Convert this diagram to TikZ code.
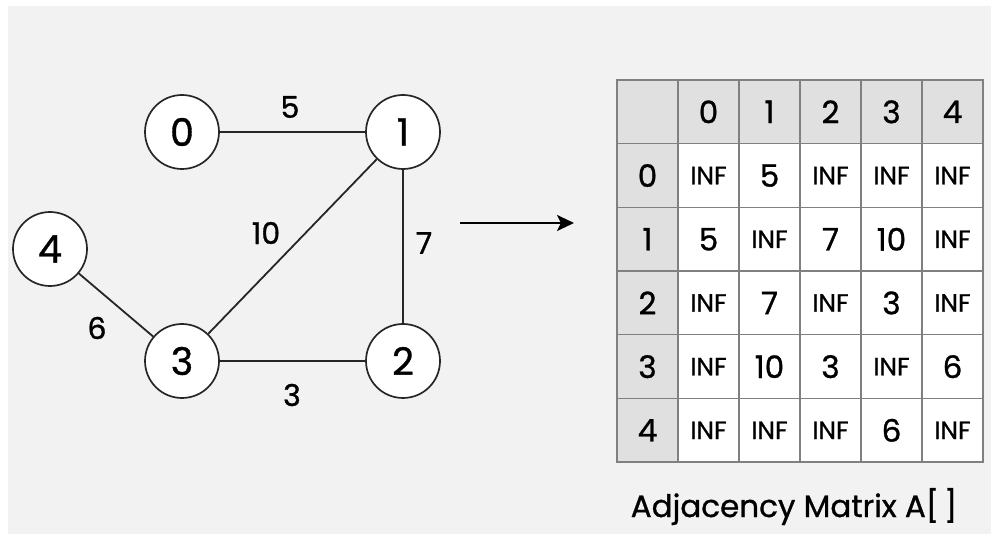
\documentclass[tikz,border=0pt]{standalone}
\usepackage{fontspec}
\setmainfont{Poppins}[FakeBold=1]
\usetikzlibrary{arrows.meta}
\definecolor{bgpanel}{HTML}{F2F2F2}
\definecolor{headfill}{HTML}{E0E0E0}
\definecolor{gridline}{HTML}{808080}
\tikzset{
  vertex/.style={circle, draw=black!85, line width=1.7pt, fill=white,
    minimum size=74pt, inner sep=0pt, font=\fontsize{38}{40}\selectfont},
  edge/.style={draw=black!85, line width=1.8pt},
  weight/.style={inner sep=0pt, font=\fontsize{30}{32}\selectfont},
  cell/.style={draw=gridline, line width=1.4pt, fill=white,
    minimum width=61pt, minimum height=63.7pt, inner sep=0pt, anchor=center},
  headcell/.style={cell, fill=headfill, font=\fontsize{31}{33}\selectfont},
  numcell/.style={cell, font=\fontsize{31}{33}\selectfont},
  infcell/.style={cell, font=\fontsize{25}{27}\selectfont},
  caption/.style={inner sep=0pt, anchor=base, font=\fontsize{31}{34}\selectfont}
}
\def\infstr{INF}
\begin{document}
\begin{tikzpicture}[x=1pt, y=-1pt]
  \useasboundingbox (0,0) rectangle (991,534);
  \fill[white] (0,0) rectangle (991,534);
  \fill[bgpanel] (8,6) rectangle (991,534);

  % graph
  \node[vertex] (v0) at (182,132) {0};
  \node[vertex] (v1) at (403,132) {1};
  \node[vertex] (v4) at (50,249) {4};
  \node[vertex] (v3) at (182,361) {3};
  \node[vertex] (v2) at (403,361) {2};

  \draw[edge] (v0) -- (v1);
  \draw[edge] (v1) -- (v2);
  \draw[edge] (v3) -- (v1);
  \draw[edge] (v3) -- (v2);
  \draw[edge] (v4) -- (v3);

  \node[weight] (w01) at (290,107) {5};
  \node[weight] (w13) at (266,233) {10};
  \node[weight] (w12) at (424,243) {7};
  \node[weight] (w34) at (97,328) {6};
  \node[weight] (w23) at (292,395) {3};

  % arrow to the matrix
  \coordinate (arrS) at (460,223);
  \coordinate (arrE) at (574,223);
  \draw[line width=2.4pt, -{Stealth[length=17pt, width=16pt, inset=4pt]}] (arrS) -- (arrE);

  % adjacency matrix
  \def\cw{61}
  \def\ch{63.7}
  \def\ox{617}
  \def\oy{80}
  \node[headcell] (m-h-h) at ({\ox+0.5*\cw},{\oy+0.5*\ch}) {};
  \foreach \j in {0,...,4} {
    \node[headcell] (m-h-\j) at ({\ox+(\j+1.5)*\cw},{\oy+0.5*\ch}) {\j};
    \node[headcell] (m-\j-h) at ({\ox+0.5*\cw},{\oy+(\j+1.5)*\ch}) {\j};
  }
  \foreach \i/\row in {0/{INF,5,INF,INF,INF}, 1/{5,INF,7,10,INF},
                       2/{INF,7,INF,3,INF}, 3/{INF,10,3,INF,6},
                       4/{INF,INF,INF,6,INF}} {
    \foreach \v [count=\k from 0] in \row {
      \ifx\v\infstr
        \node[infcell] (m-\i-\k) at ({\ox+(\k+1.5)*\cw},{\oy+(\i+1.5)*\ch}) {INF};
      \else
        \node[numcell] (m-\i-\k) at ({\ox+(\k+1.5)*\cw},{\oy+(\i+1.5)*\ch}) {\v};
      \fi
    }
  }

  \node[caption] (cap) at (794,517) {Adjacency Matrix A[\,]};
\end{tikzpicture}
\end{document}
